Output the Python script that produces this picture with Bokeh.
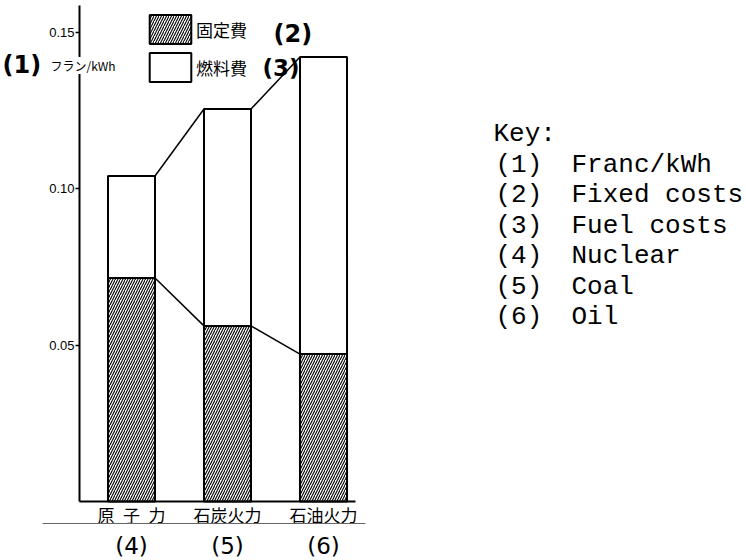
import numpy as np
from bokeh.plotting import figure
from bokeh.models import (Range1d, LinearAxis, FixedTicker, Label, Legend,
                          LegendItem, ColumnDataSource)
from bokeh.embed import file_html
from bokeh.resources import INLINE

# ---------------- data ----------------
categories = ["原\u2002子\u2002力", "石炭火力", "石油火力"]
category_keys = ["(4)", "(5)", "(6)"]
fixed_costs = [0.0714, 0.0561, 0.0471]      # 固定費
total_costs = [0.1040, 0.1254, 0.1420]      # 固定費 + 燃料費
y_ticks = [0.05, 0.10, 0.15]
y_tick_labels = ["0.05", "0.10", "0.15"]
legend_labels = ["固定費", "燃料費"]
unit_label = "フラン/kWh"
key_title = "Key:"
key_codes = ["(1)", "(2)", "(3)", "(4)", "(5)", "(6)"]
key_texts = ["Franc/kWh", "Fixed costs", "Fuel costs", "Nuclear", "Coal", "Oil"]

# ---------------- layout (pixels) ----------------
W, H = 746, 560
PX_PER_X = 96.0          # pixels per category step
PX_PER_Y = 3130.0        # pixels per franc/kWh
X1_PX = 131.0            # pixel x of first category centre
Y0_PX = 501.0            # pixel y of the zero line


def xd(px):
    return 1 + (px - X1_PX) / PX_PER_X


def yd(py):
    return (Y0_PX - py) / PX_PER_Y


p = figure(width=W, height=H, output_backend="svg", toolbar_location=None,
           x_range=Range1d(xd(0), xd(W)), y_range=Range1d(yd(H), yd(0)),
           x_axis_type=None, y_axis_type=None,
           min_border_left=0, min_border_right=0,
           min_border_top=0, min_border_bottom=0)
p.outline_line_color = None
p.xgrid.visible = False
p.ygrid.visible = False
p.background_fill_color = "white"
p.border_fill_color = "white"

x = np.arange(1, len(categories) + 1)
fixed = np.array(fixed_costs)
total = np.array(total_costs)
bw = 0.49
src = ColumnDataSource(dict(x=x, fixed=fixed, total=total))

r_fixed = p.vbar(x="x", bottom=0, top="fixed", width=bw, source=src,
                 fill_color="white", hatch_pattern="/", hatch_color="black",
                 hatch_scale=5, hatch_weight=1.1, hatch_alpha=1.0,
                 line_color="black", line_width=2)
r_fuel = p.vbar(x="x", bottom="fixed", top="total", width=bw, source=src,
                fill_color="white", line_color="black", line_width=2)

# connecting lines between bar corners
p.segment(x0=x[:-1] + bw / 2, y0=total[:-1], x1=x[1:] - bw / 2, y1=total[1:],
          line_color="black", line_width=1.5)
p.segment(x0=x[:-1] + bw / 2, y0=fixed[:-1], x1=x[1:] - bw / 2, y1=fixed[1:],
          line_color="black", line_width=1.5)

# ---------------- axes ----------------
yax = LinearAxis(ticker=FixedTicker(ticks=y_ticks),
                 fixed_location=xd(79), bounds=(0, yd(5)),
                 major_label_overrides={t: l for t, l in zip(y_ticks, y_tick_labels)},
                 axis_line_width=2, axis_line_color="black",
                 major_tick_out=4, major_tick_in=0, minor_tick_out=0, minor_tick_in=0,
                 major_tick_line_width=1.5,
                 major_label_standoff=1,
                 major_label_text_font="Liberation Sans",
                 major_label_text_font_size="13px",
                 major_label_text_color="black")
p.add_layout(yax, "left")

xax = LinearAxis(ticker=FixedTicker(ticks=list(x)),
                 fixed_location=0, bounds=(xd(79), xd(355)),
                 major_label_overrides={int(i): c for i, c in zip(x, categories)},
                 axis_line_width=2, axis_line_color="black",
                 major_tick_out=0, major_tick_in=0, minor_tick_out=0, minor_tick_in=0,
                 major_label_standoff=0,
                 major_label_text_font="Noto Sans CJK JP",
                 major_label_text_font_size="17px",
                 major_label_text_color="black")
p.add_layout(xax, "below")

xax2 = LinearAxis(ticker=FixedTicker(ticks=list(x)),
                  fixed_location=yd(523), bounds=(xd(42), xd(365)),
                  major_label_overrides={int(i): k for i, k in zip(x, category_keys)},
                  axis_line_width=1, axis_line_color="#666666",
                  major_tick_out=0, major_tick_in=0, minor_tick_out=0, minor_tick_in=0,
                  major_label_standoff=9,
                  major_label_text_font="DejaVu Sans",
                  major_label_text_font_size="23px",
                  major_label_text_color="black")
p.add_layout(xax2, "below")

# ---------------- legend ----------------
legend = Legend(items=[LegendItem(label=legend_labels[0], renderers=[r_fixed]),
                       LegendItem(label=legend_labels[1], renderers=[r_fuel])],
                location=(144, H - 85), glyph_width=52, glyph_height=36, spacing=2,
                padding=0, margin=0, label_standoff=0,
                border_line_color=None, background_fill_alpha=0,
                label_text_font="Noto Sans CJK JP", label_text_font_size="17px",
                label_text_color="black",
                label_height=36)
p.add_layout(legend, "center")

# ---------------- labels ----------------


def lab(text, px, py, size, font="DejaVu Sans", style="normal", align="left",
        bg=None):
    p.add_layout(Label(x=px, y=H - py, x_units="screen", y_units="screen",
                       text=text, text_font=font, text_font_size=size,
                       text_font_style=style, text_align=align,
                       text_baseline="middle", text_color="black",
                       background_fill_color=bg))


lab("(1)", 2, 64, "24px", style="bold")
lab(unit_label, 50, 65, "12px", font="Noto Sans CJK JP", bg="white")
lab("(2)", 273, 33, "24px", style="bold")
lab("(3)", 262, 67, "23px", style="bold")

lab(key_title, 493, 133, "26px", font="Liberation Mono")
for i, (c, t) in enumerate(zip(key_codes, key_texts)):
    yy = 164 + 30.5 * i
    lab(c, 495, yy, "26px", font="Liberation Mono")
    lab(t, 571, yy, "26px", font="Liberation Mono")

open("out.html", "w").write(file_html(p, INLINE))
